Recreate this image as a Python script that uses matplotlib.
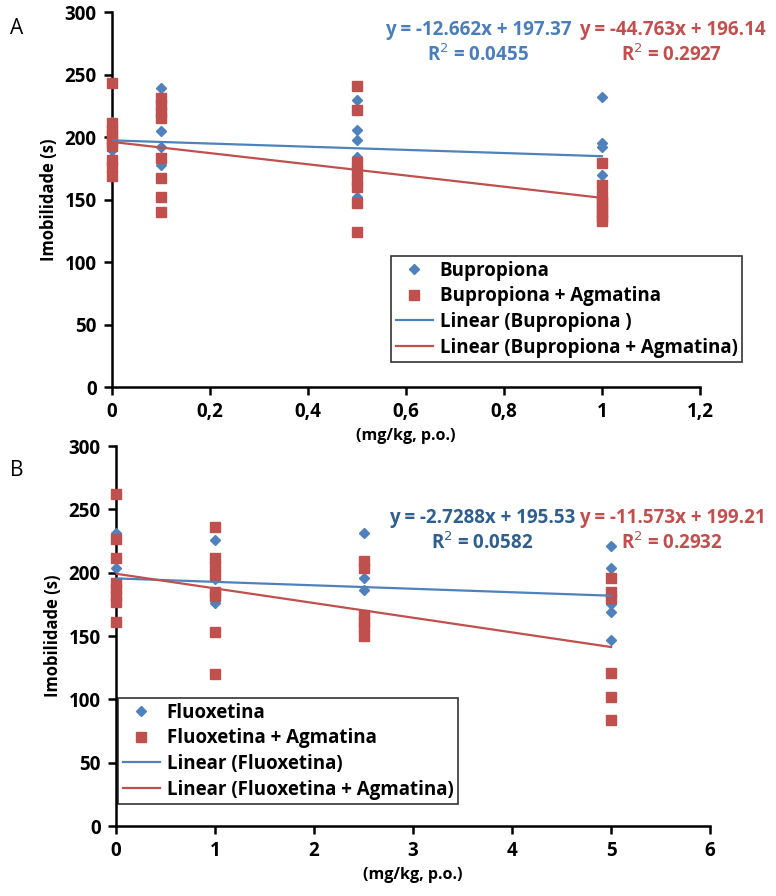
import numpy as np
import matplotlib
matplotlib.use('Agg')
import matplotlib.pyplot as plt

plt.rcParams['font.family'] = ['Open Sans', 'DejaVu Sans']

BLUE = '#4F81BD'
RED = '#C0504D'

# painel A - bupropiona (mg/kg)
bup_x = [0]*6 + [0.1]*4 + [0.5]*6 + [1]*5
bup_y = [212, 205, 200, 195, 190, 183,
         239, 205, 192, 178,
         230, 206, 198, 184, 170, 152,
         232, 195, 192, 170, 160]
bupag_x = [0]*9 + [0.1]*8 + [0.5]*8 + [1]*8
bupag_y = [243, 211, 206, 202, 197, 193, 182, 176, 169,
           231, 226, 220, 215, 183, 167, 152, 140,
           241, 222, 180, 173, 166, 160, 147, 124,
           179, 162, 153, 148, 144, 140, 136, 133]
fit_a = [(-12.662, 197.37, 0.0455), (-44.763, 196.14, 0.2927)]
xticks_a = [0, 0.2, 0.4, 0.6, 0.8, 1, 1.2]

# painel B - fluoxetina (mg/kg)
flu_x = [0]*4 + [1]*4 + [2.5]*4 + [5]*5
flu_y = [231, 204, 190, 180,
         226, 195, 185, 176,
         231, 196, 186, 165,
         221, 204, 175, 169, 147]
fluag_x = [0]*8 + [1]*8 + [2.5]*6 + [5]*6
fluag_y = [262, 227, 212, 192, 187, 182, 177, 161,
           236, 212, 205, 198, 185, 182, 153, 120,
           209, 204, 167, 161, 157, 150,
           196, 185, 180, 121, 102, 84]
fit_b = [(-2.7288, 195.53, 0.0582), (-11.573, 199.21, 0.2932)]
xticks_b = [0, 1, 2, 3, 4, 5, 6]


def fmt(v):
    s = ('%g' % v).replace('.', ',')
    return s


def panel(ax, x1, y1, x2, y2, fits, xticks, names, xmax):
    ax.plot(x1, y1, 'D', color=BLUE, ms=5.5, ls='none', clip_on=False,
            label=names[0], zorder=3)
    ax.plot(x2, y2, 's', color=RED, ms=7.8, ls='none', clip_on=False,
            label=names[1], zorder=4)
    xx = np.array([0, xmax])
    ax.plot(xx, fits[0][0]*xx + fits[0][1], color=BLUE, lw=1.6,
            label=names[2], zorder=5)
    ax.plot(xx, fits[1][0]*xx + fits[1][1], color=RED, lw=1.6,
            label=names[3], zorder=5)
    ax.set_xlim(xticks[0], xticks[-1])
    ax.set_ylim(0, 300)
    ax.set_xticks(xticks)
    ax.set_xticklabels([fmt(t) for t in xticks])
    ax.set_yticks(np.arange(0, 301, 50))
    for s in ['top', 'right']:
        ax.spines[s].set_visible(False)
    for s in ['left', 'bottom']:
        ax.spines[s].set_linewidth(1.8)
    ax.tick_params(width=1.8, length=6, labelsize=13.5, pad=5)
    for lab in ax.get_xticklabels() + ax.get_yticklabels():
        lab.set_fontweight('bold')
    ax.set_ylabel('Imobilidade (s)', fontsize=12, fontweight='bold', labelpad=5)
    ax.set_xlabel('(mg/kg, p.o.)', fontsize=11.5, fontweight='bold', labelpad=4)


fig = plt.figure(figsize=(7.76, 8.96), dpi=100)
ax1 = fig.add_axes([0.1443, 0.568, 0.7577, 0.4185])
ax2 = fig.add_axes([0.1495, 0.0781, 0.7655, 0.424])

panel(ax1, bup_x, bup_y, bupag_x, bupag_y, fit_a, xticks_a,
      ['Bupropiona', 'Bupropiona + Agmatina', 'Linear (Bupropiona )',
       'Linear (Bupropiona + Agmatina)'], 1)
panel(ax2, flu_x, flu_y, fluag_x, fluag_y, fit_b, xticks_b,
      ['Fluoxetina', 'Fluoxetina + Agmatina', 'Linear (Fluoxetina)',
       'Linear (Fluoxetina + Agmatina)'], 5)

# equacoes
def eq(fx, fy, f, col):
    txt = 'y = %gx + %g\nR$^2$ = %.4f' % (f[0], f[1], f[2])
    fig.text(fx, fy, txt, color=col, fontsize=13.5, fontweight='bold',
             ha='center', va='top', linespacing=1.25)

eq(478/776, 1 - 20/896, fit_a[0], '#4A7EBB')
eq(672/776, 1 - 20/896, fit_a[1], RED)
eq(482/776, 1 - 508/896, fit_b[0], '#2F5F8F')
eq(672/776, 1 - 508/896, fit_b[1], RED)

fig.text(10/776, 1 - 28/896, 'A', fontsize=15, va='center')
fig.text(10/776, 1 - 470/896, 'B', fontsize=15, va='center')

leg_kw = dict(frameon=True, fancybox=False, edgecolor='black',
              handlelength=2.0, handletextpad=0.35, borderpad=0.25,
              borderaxespad=0, labelspacing=0.3,
              prop={'weight': 'bold', 'size': 13.5})
l1 = ax1.legend(loc='upper left', bbox_to_anchor=(391/776, 1 - 256/896),
                bbox_transform=fig.transFigure, **leg_kw)
l2 = ax2.legend(loc='upper left', bbox_to_anchor=(118/776, 1 - 698/896),
                bbox_transform=fig.transFigure, **leg_kw)
for l in (l1, l2):
    l.get_frame().set_linewidth(1.2)

fig.savefig('out.png', dpi=100)
